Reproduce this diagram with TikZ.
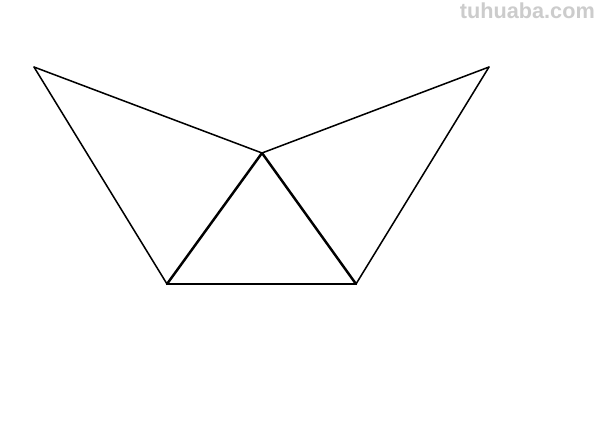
\documentclass[tikz,border=0pt]{standalone}
\usepackage{fontspec}
\newfontfamily\wmfont{Liberation Sans}
\begin{document}
\begin{tikzpicture}[x=0.03cm,y=-0.03cm,
  thin line/.style={line width=1.3pt,line join=round,line cap=round},
  thick line/.style={line width=2.1pt,line join=round,line cap=round}]
\useasboundingbox[fill=white] (0,0) rectangle (600,440);
\coordinate (A) at (34,67);
\coordinate (B) at (489,67);
\coordinate (C) at (262,153);
\coordinate (D) at (167,284);
\coordinate (E) at (356,284);
\draw[thin line] (A) -- (C) -- (B);
\draw[thin line] (A) -- (D) -- (E) -- (B);
\draw[thick line] (D) -- (C) -- (E);
\node[anchor=east,inner sep=0pt,text=black!20,font=\wmfont\bfseries\fontsize{18.5}{20}\selectfont] (wm) at (595,11) {tuhuaba.com};
\end{tikzpicture}
\end{document}
